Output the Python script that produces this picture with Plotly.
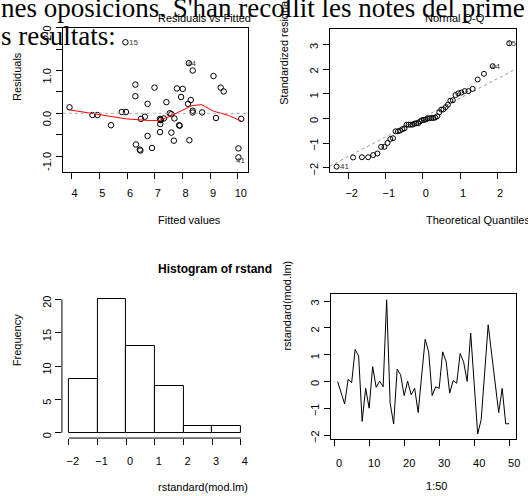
import plotly.graph_objects as go

W, H = 528, 496

# ---------------- data ----------------
# Residuals vs Fitted
fitted = [3.92, 4.75, 4.93, 5.42, 5.81, 5.96, 5.94, 6.30, 6.30, 6.32,
          6.46, 6.48, 6.50, 6.64, 6.74, 6.74, 6.90, 6.99, 7.19, 7.20,
          7.19, 7.22, 7.21, 7.33, 7.42, 7.54, 7.60, 7.60, 7.71, 7.69,
          7.80, 7.88, 7.90, 7.95, 8.01, 8.20, 8.25, 8.23, 8.30, 8.37,
          8.37, 8.37, 8.71, 9.12, 9.21, 9.38, 9.49, 10.02, 10.02, 10.12]
residuals = [0.14, -0.04, -0.04, -0.28, 0.03, 0.03, 1.66, 0.67, 0.40, -0.73,
             -0.85, -0.87, -0.13, -0.08, 0.22, -0.53, -0.81, 0.60, -0.13, -0.25,
             -0.44, -0.15, -0.16, -0.12, 0.26, 0.00, -0.02, -0.45, -0.12, -0.64,
             0.58, -0.28, -0.29, 0.38, 0.57, 0.22, -0.63, 1.17, 0.31, 1.00,
             0.06, 0.02, 0.02, 0.87, -0.11, 0.60, 0.51, -0.82, -1.03, -0.13]
tl_label_ids = ["15", "44", "41"]
tl_label_pos = [6, 37, 48]          # index of the labelled point in the arrays above

lowess_fit = [3.92, 4.78, 5.97, 6.80, 7.16, 7.51, 7.87, 8.35, 8.70, 9.12, 9.66, 10.12]
lowess_res = [0.08, -0.01, -0.13, -0.17, -0.17, -0.08, 0.04, 0.18, 0.20, 0.05, -0.05, -0.18]

# standardized residuals, observation order 1..50
obs_index = list(range(1, 51))
rstd = [0.00, -0.40, -0.83, 0.09, -0.04, 1.20, 0.95, -1.48, -0.25, -0.99,
        0.56, -0.21, 0.02, -0.19, 3.05, -0.80, -1.58, 0.46, 0.25, -0.52,
        0.02, -0.49, -0.25, -1.15, 0.37, 1.58, 1.11, -0.52, -0.19, -0.25,
        1.11, 0.74, -0.43, 0.04, -0.06, 1.05, 0.72, 0.01, 1.81, -0.07,
        -1.95, -1.42, 0.36, 2.12, 1.02, -0.12, -1.15, -0.25, -1.57, -1.57]

# theoretical normal quantiles for n = 50
theo_q = [-2.326, -1.881, -1.645, -1.476, -1.341, -1.227, -1.126, -1.036, -0.954, -0.878,
          -0.806, -0.739, -0.674, -0.613, -0.553, -0.496, -0.440, -0.385, -0.332, -0.279,
          -0.228, -0.176, -0.126, -0.075, -0.025, 0.025, 0.075, 0.126, 0.176, 0.228,
          0.279, 0.332, 0.385, 0.440, 0.496, 0.553, 0.613, 0.674, 0.739, 0.806,
          0.878, 0.954, 1.036, 1.126, 1.227, 1.341, 1.476, 1.645, 1.881, 2.326]
qq_intercept = 0.04
qq_slope = 0.785
qq_label_ids = ["15", "44", "41"]
qq_label_obs = [15, 44, 41]

# histogram
hist_edges = [-2, -1, 0, 1, 2, 3, 4]
hist_counts = [8, 20, 13, 7, 1, 1]

# ---------------- derived ----------------
order = sorted(range(len(rstd)), key=lambda i: rstd[i])
qq_y = [rstd[i] for i in order]
rank_of_obs = {order[k] + 1: k for k in range(len(order))}
hist_mid = [(hist_edges[i] + hist_edges[i + 1]) / 2 for i in range(len(hist_counts))]

SANS = "Liberation Sans, Arial, sans-serif"
SERIF = "Liberation Serif, Times New Roman, serif"


def dx(a, b):
    return [a / W, b / W]


def dy(top, bottom):
    return [1 - bottom / H, 1 - top / H]


qx_range = [-2.51, 2.51]

fig = go.Figure()
fig.add_trace(go.Scatter(x=fitted, y=residuals, mode="markers",
                         marker=dict(symbol="circle-open", size=5.5, color="black",
                                     line=dict(width=1, color="black")),
                         xaxis="x", yaxis="y"))
fig.add_trace(go.Scatter(x=lowess_fit, y=lowess_res, mode="lines",
                         line=dict(color="red", width=1), xaxis="x", yaxis="y"))

fig.add_trace(go.Scatter(x=qx_range, y=[qq_intercept + qq_slope * v for v in qx_range],
                         mode="lines", line=dict(color="#999999", width=1, dash="dot"),
                         xaxis="x2", yaxis="y2"))
fig.add_trace(go.Scatter(x=theo_q, y=qq_y, mode="markers",
                         marker=dict(symbol="circle-open", size=5, color="black",
                                     line=dict(width=1, color="black")),
                         xaxis="x2", yaxis="y2"))

fig.add_trace(go.Bar(x=hist_mid, y=hist_counts, width=1,
                     marker=dict(color="white", line=dict(color="black", width=1)),
                     xaxis="x3", yaxis="y3"))

fig.add_trace(go.Scatter(x=obs_index, y=rstd, mode="lines",
                         line=dict(color="black", width=1), xaxis="x4", yaxis="y4"))

ax = dict(showgrid=False, zeroline=False, ticks="outside", ticklen=6, tickwidth=1,
          tickcolor="black", linecolor="black", linewidth=1,
          tickfont=dict(family=SANS, size=11, color="black"))

fig.update_layout(
    width=W, height=H, margin=dict(l=0, r=0, t=0, b=0),
    paper_bgcolor="white", plot_bgcolor="white", showlegend=False,
    xaxis=dict(ax, domain=dx(63.3, 250), range=[3.68, 10.37], tickvals=list(range(4, 11)),
               showline=True, mirror=True, anchor="y", ticklabelshift=3, ticklabelstandoff=5),
    yaxis=dict(ax, domain=dy(26, 172), range=[-1.37, 2.0],
               tickvals=[-1, -0.5, 0, 0.5, 1, 1.5, 2],
               ticktext=["-1.0", "", "0.0", "", "1.0", "", "2.0"],
               tickangle=-90, showline=True, mirror=True, anchor="x", ticklabelshift=7),
    xaxis2=dict(ax, domain=dx(332.3, 520), range=qx_range, tickvals=[-2, -1, 0, 1, 2],
                showline=True, mirror=True, anchor="y2", ticklabelshift=3, ticklabelstandoff=5),
    yaxis2=dict(ax, domain=dy(27, 172), range=[-2.165, 3.64], tickvals=[-2, -1, 0, 1, 2, 3],
                tickangle=-90, showline=True, mirror=True, anchor="x2", ticklabelshift=3),
    xaxis3=dict(ax, domain=dx(62.4, 249.6), range=[-2.24, 4.24], tickvals=hist_edges,
                showline=False, anchor="y3", ticklabelshift=4, ticklabelstandoff=7),
    yaxis3=dict(ax, domain=dy(295.6, 441.4), range=[-0.8, 20.8], tickvals=[0, 5, 10, 15, 20],
                tickangle=-90, showline=False, anchor="x3", ticklabelshift=4),
    xaxis4=dict(ax, domain=dx(333.3, 520), range=[-0.96, 51.96], tickvals=[0, 10, 20, 30, 40, 50],
                showline=True, mirror=True, anchor="y4", ticklabelshift=5, ticklabelstandoff=7),
    yaxis4=dict(ax, domain=dy(296, 442.7), range=[-2.15, 3.25], tickvals=[-2, -1, 0, 1, 2, 3],
                tickangle=-90, showline=True, mirror=True, anchor="x4", ticklabelshift=3),
    bargap=0,
)

shapes = [
    dict(type="line", xref="x domain", yref="y", x0=0, x1=1, y0=0, y1=0,
         line=dict(color="#aaaaaa", width=1, dash="dot")),
    dict(type="line", xref="x3", yref="y3 domain", x0=hist_edges[0], x1=hist_edges[-1], y0=0, y1=0,
         line=dict(color="black", width=1)),
    dict(type="line", xref="x3 domain", yref="y3", x0=0, x1=0, y0=0, y1=20,
         line=dict(color="black", width=1)),
]
fig.update_layout(shapes=shapes)


def txt(s, xpx, ypx, size=11, angle=0, xanchor="left", bold=False, family=SANS, color="black"):
    return dict(text=("<b>%s</b>" % s) if bold else s, x=xpx / W, y=1 - ypx / H,
                xref="paper", yref="paper", xanchor=xanchor, yanchor="middle",
                showarrow=False, textangle=angle,
                font=dict(family=family, size=size, color=color))


ann = [
    txt("Residuals vs Fitted", 157, 16),
    txt("Normal Q-Q", 426.7, 16),
    txt("Histogram of rstand", 157, 270, size=12, bold=True),
    txt("Fitted values", 157, 221),
    txt("Theoretical Quantiles", 427, 221),
    txt("rstandard(mod.lm)", 157, 491),
    txt("1:50", 427, 490),
    txt("Residuals", 17, 75, angle=-90, xanchor="center"),
    txt("Standardized residuals", 286.5, 47, angle=-90, xanchor="center"),
    txt("Frequency", 17, 342.5, angle=-90, xanchor="center"),
    txt("rstandard(mod.lm)", 289, 307.5, angle=-90, xanchor="center"),
]
for lab, i in zip(tl_label_ids, tl_label_pos):
    ann.append(dict(text=lab, x=fitted[i], y=residuals[i], xref="x", yref="y",
                    xanchor="left", yanchor="middle", xshift=2 if lab == "15" else -4,
                    yshift=-3 if lab == "41" else 0,
                    showarrow=False, font=dict(family=SANS, size=8, color="#333333")))
for lab, ob in zip(qq_label_ids, qq_label_obs):
    k = rank_of_obs[ob]
    ann.append(dict(text=lab, x=theo_q[k], y=qq_y[k], xref="x2", yref="y2",
                    xanchor="left", yanchor="middle", xshift=1 if lab == "41" else -4,
                    showarrow=False, font=dict(family=SANS, size=8, color="#333333")))

ann.append(txt("nes oposicions. S'han recollit les notes del prime", -1, 6, size=27, family=SERIF))
ann.append(txt("s resultats:", -1, 34, size=27, family=SERIF))
fig.update_layout(annotations=ann)

fig.write_html("out.html")
